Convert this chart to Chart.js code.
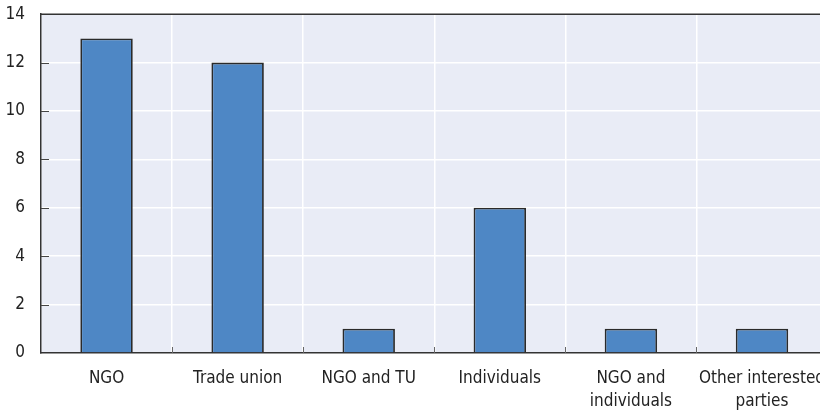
<!DOCTYPE html>
<html>
<head>
<meta charset="utf-8">
<script src="https://cdn.jsdelivr.net/npm/chart.js@4"></script>
<style>
    html, body { margin: 0; padding: 0; background: #fff; overflow: hidden; }
    #wrap { position: relative; top: -12px; width: 839px; height: 422px; }
</style>
</head>
<body>
<div id="wrap"><canvas id="chart"></canvas></div>
<script>
// Dados do gráfico
const categorias = ['NGO', 'Trade union', 'NGO and TU', 'Individuals', ['NGO and', 'individuals'], ['Other interested', 'parties']];
const valores = [13, 12, 1, 6, 1, 1];
const yTicks = [0, 2, 4, 6, 8, 10, 12, 14];

const FONTE = '"Liberation Sans Narrow", "Arial Narrow", "DejaVu Sans Condensed", sans-serif';

// Fundo da área do gráfico, borda superior e marcas internas
const decoracao = {
    id: 'decoracao',
    beforeDraw(chart) {
        const { ctx, chartArea: a } = chart;
        ctx.save();
        ctx.fillStyle = '#e9ecf6';
        ctx.fillRect(a.left, a.top, a.right - a.left, a.bottom - a.top);
        ctx.restore();
    },
    afterDraw(chart) {
        const { ctx, chartArea: a, scales } = chart;
        ctx.save();
        ctx.strokeStyle = '#333';
        ctx.lineWidth = 1.5;
        ctx.beginPath();
        ctx.moveTo(a.left, a.top);
        ctx.lineTo(a.right, a.top);
        ctx.stroke();
        // marcas do eixo y para dentro
        ctx.lineWidth = 1;
        ctx.strokeStyle = '#444';
        yTicks.forEach(v => {
            if (v === 0 || v === 14) return;
            const y = Math.round(scales.y.getPixelForValue(v)) + 0.5;
            ctx.beginPath();
            ctx.moveTo(a.left, y);
            ctx.lineTo(a.left + 8, y);
            ctx.stroke();
        });
        // marcas do eixo x entre categorias
        ctx.strokeStyle = '#666';
        for (let i = 1; i < categorias.length; i++) {
            const x = Math.round((scales.x.getPixelForValue(i - 1) + scales.x.getPixelForValue(i)) / 2) + 0.5;
            ctx.beginPath();
            ctx.moveTo(x, a.bottom);
            ctx.lineTo(x, a.bottom - 6);
            ctx.stroke();
        }
        ctx.restore();
    }
};

new Chart(document.getElementById('chart'), {
    type: 'bar',
    data: {
        labels: categorias,
        datasets: [{
            data: valores,
            backgroundColor: '#4e87c5',
            borderColor: '#2a2a2a',
            borderWidth: 1.8,
            barPercentage: 0.4,
            categoryPercentage: 1
        }]
    },
    options: {
        responsive: true,
        maintainAspectRatio: false,
        animation: false,
        layout: { padding: { top: 3, right: 0, left: 0, bottom: 0 } },
        plugins: {
            legend: { display: false },
            tooltip: { enabled: false }
        },
        scales: {
            x: {
                afterFit(s) { s.height = 57; },
                grid: { color: '#ffffff', lineWidth: 1.5, offset: true, drawTicks: false },
                border: { color: '#333', width: 1.5 },
                ticks: {
                    padding: 14,
                    color: '#222',
                    font: { family: FONTE, size: 17, lineHeight: 1.35 },
                    maxRotation: 0,
                    autoSkip: false
                }
            },
            y: {
                min: 0,
                max: 14,
                afterFit(s) { s.width = 41; },
                afterBuildTicks(s) { s.ticks = yTicks.map(v => ({ value: v })); },
                grid: { color: '#ffffff', lineWidth: 1.5, drawTicks: false },
                border: { color: '#333', width: 1.5 },
                ticks: {
                    padding: 16,
                    color: '#222',
                    font: { family: FONTE, size: 17 }
                }
            }
        }
    },
    plugins: [decoracao]
});
</script>
</body>
</html>
